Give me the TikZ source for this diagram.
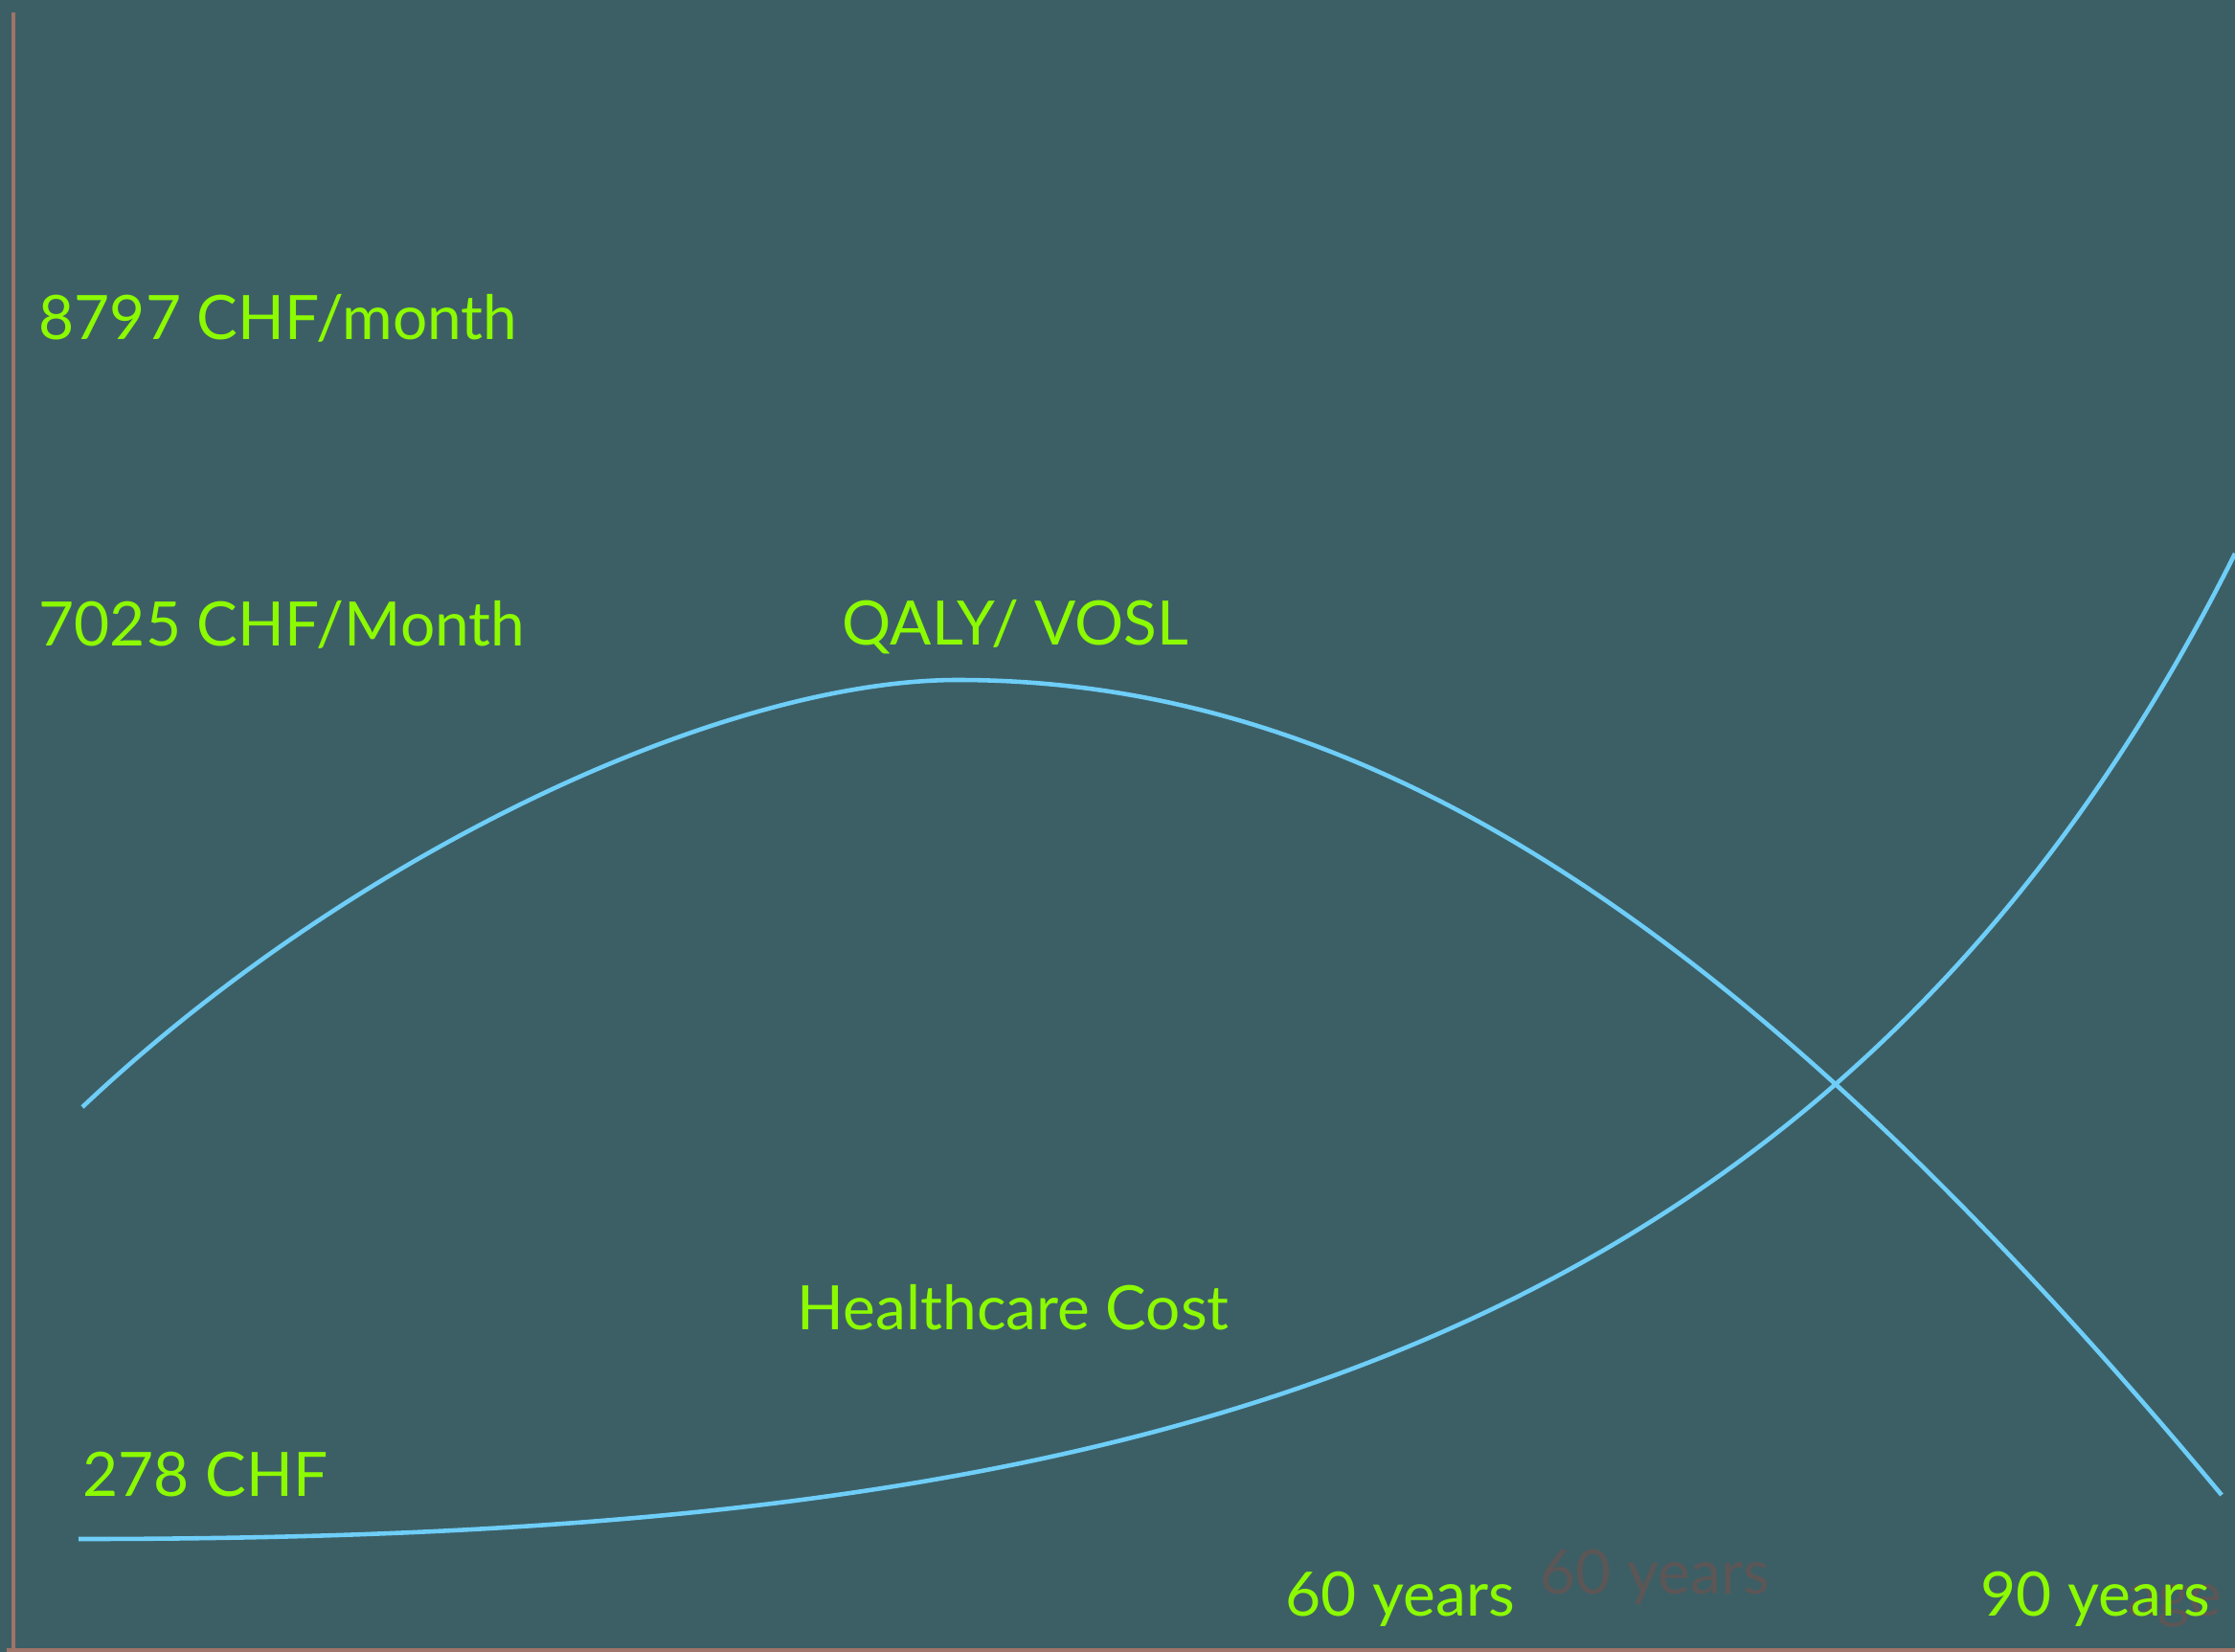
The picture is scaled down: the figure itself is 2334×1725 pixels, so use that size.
\documentclass[tikz,border=0pt]{standalone}
\usepackage{fontspec}
\setmainfont{Lato}
\usepackage{tikz}
\usetikzlibrary{positioning,calc}
\definecolor{panel}{RGB}{60,95,102}
\definecolor{limegreen}{RGB}{140,250,0}
\definecolor{skyline}{RGB}{110,206,248}
\definecolor{axisbrown}{RGB}{160,116,104}
\definecolor{ghostgrey}{RGB}{92,86,86}

\begin{document}
\begin{tikzpicture}[x=0.01cm, y=-0.01cm,
	label/.style={anchor=base west,inner sep=0pt,text=limegreen,font=\fontsize{18.2}{22}\selectfont},
	ghost/.style={label,text=ghostgrey},
	curve/.style={draw=skyline,line width=1.3pt},
	axis/.style={draw=axisbrown,line width=1.4pt}]
	\useasboundingbox (0,0) rectangle (2334,1725);
	\fill[panel] (0,0) rectangle (2334,1725);
	\clip (0,0) rectangle (2334,1725);
	\coordinate (top) at (14,13);
	\coordinate (bottom) at (14,1725);
	\coordinate (left) at (7,1723);
	\coordinate (right) at (2334,1723);
	\draw[axis] (top) -- (bottom);
	\draw[axis,line width=0.9pt] (left) -- (right);
	\node[ghost] at (1608,1664) (old60) {60 years};
	\node[ghost] at (2221,1687) (age) {age};
	\node[label] at (40,355) (high) {8797 CHF/month};
	\node[label] at (40,674) (mid) {7025 CHF/Month};
	\node[label] at (879,673) (qaly) {QALY/ VOSL};
	\node[label] at (832,1388) (care) {Healthcare Cost};
	\node[label] at (86,1562) (low) {278 CHF};
	\node[label] at (1342,1687) (age60) {60 years};
	\node[label] at (2068,1687) (age90) {90 years};
	\coordinate (qstart) at (86,1156);
	\coordinate (qpeak) at (1000,710);
	\coordinate (qend) at (2320,1561);
	\coordinate (hstart) at (82,1607);
	\coordinate (hend) at (2334,578);
	\draw[curve] (qstart) .. controls (370,888) and (758,710) .. (qpeak)
		.. controls (1428,710) and (1824,965) .. (qend);
	\draw[curve] (hstart) .. controls (1124,1607) and (1896,1453) .. (hend);
\end{tikzpicture}
\end{document}
